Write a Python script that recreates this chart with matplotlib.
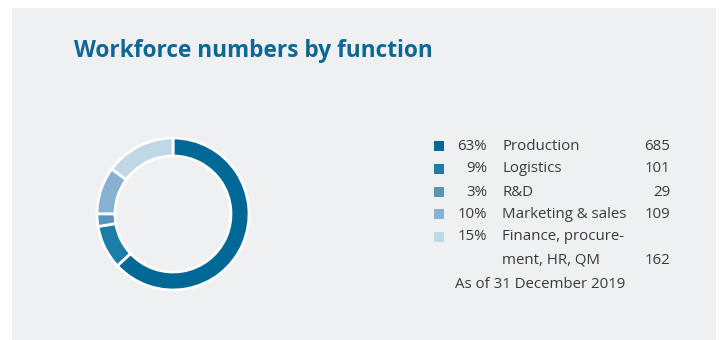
import matplotlib.pyplot as plt
from matplotlib.patches import Rectangle

# Workforce by function, as of 31 December 2019
functions = ['Production', 'Logistics', 'R&D', 'Marketing & sales',
             'Finance, procure-\nment, HR, QM']
headcount = [685, 101, 29, 109, 162]
percent = [63, 9, 3, 10, 15]
colors = ['#006896', '#1A7EA8', '#5795BB', '#88B1D1', '#C0D7E6']

panel_bg = '#EFF0F2'
text_col = '#3A3A3A'
title_col = '#0D6794'

W, H = 721, 340
fig = plt.figure(figsize=(W / 100, H / 100), dpi=100)
fig.patch.set_facecolor('white')
ax = fig.add_axes([0, 0, 1, 1])

# grey panel
ax.add_patch(Rectangle((12, 0), 704, 332, facecolor=panel_bg, edgecolor='none', zorder=0))

# donut, clockwise from 12 o'clock
ax.pie(headcount, colors=colors, startangle=90, counterclock=False,
       center=(173, H - 214), radius=76,
       wedgeprops=dict(width=18, edgecolor='white', linewidth=2))

ax.text(74, H - 51, 'Workforce numbers by function', fontsize=16.3,
        fontweight='bold', color=title_col, family='Open Sans', va='center')

# legend rows
fs = 10.8
row_y = [146, 169, 192, 214, 237]
for i in range(len(functions)):
    y = H - row_y[i]
    ax.add_patch(Rectangle((434, y - 4.5), 10, 10, facecolor=colors[i], edgecolor='none'))
    ax.text(487, y, f'{percent[i]}%', ha='right', va='center', fontsize=fs,
            color=text_col, family='Open Sans')
    lines = functions[i].split('\n')
    for j, line in enumerate(lines):
        ax.text(502, y - 23 * j, line, ha='left', va='center', fontsize=fs,
                color=text_col, family='Open Sans')
    ax.text(670, y - 23 * (len(lines) - 1), str(headcount[i]), ha='right',
            va='center', fontsize=fs, color=text_col, family='Open Sans')

ax.text(455, H - 285, 'As of 31 December 2019', ha='left', va='center',
        fontsize=fs, color=text_col, family='Open Sans')

ax.set_xlim(0, W)
ax.set_ylim(0, H)
ax.set_aspect('equal')
ax.axis('off')

fig.savefig('out.png', dpi=100, facecolor=fig.get_facecolor())
